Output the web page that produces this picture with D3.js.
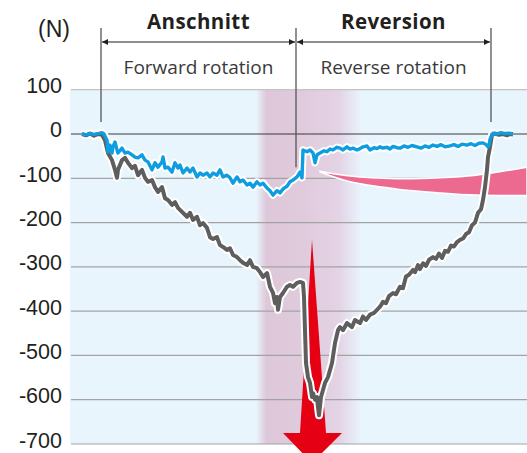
<!DOCTYPE html>
<html>
<head>
<meta charset="utf-8">
<script src="https://cdn.jsdelivr.net/npm/d3@7"></script>
<style>
  html, body { margin: 0; padding: 0; background: #fff; }
  svg { display: block; }
</style>
</head>
<body>
<div id="chart"></div>
<script>
// ---- Data (force in N, time in arbitrary sample ticks) ----
const yTicks = [100, 0, -100, -200, -300, -400, -500, -600, -700];

const phaseNames = ["Anschnitt", "Reversion"];
const phaseRotation = ["Forward rotation", "Reverse rotation"];
const phaseBounds = [19, 214, 409];     // time of the three divider lines
const boundEnds = [27, -75, 27];        // force where each divider stops

const grayTime = [0, 4, 8, 12, 16, 20, 23, 26, 30, 33, 35, 36, 40, 43, 46, 50, 53, 56, 60, 63, 66, 70, 73, 76, 80, 83, 86, 90, 93, 96,
  100, 105, 108, 111, 115, 118, 121, 125, 128, 131, 135, 138, 141, 145, 148, 151, 155, 158, 161, 165, 168, 171, 175, 178, 181, 185, 188, 191, 193, 195,
  196, 198, 201, 205, 208, 211, 215, 218, 221, 222, 223, 224, 226, 228, 230, 231, 233, 235, 236, 237, 239, 241, 243, 246, 250, 253, 256, 258, 261, 265,
  270, 273, 278, 281, 284, 288, 292, 295, 298, 301, 304, 307, 311, 314, 318, 321, 324, 327, 331, 333, 336, 338, 341, 344, 347, 351, 354, 357, 360, 363,
  366, 369, 372, 375, 378, 381, 384, 387, 390, 393, 396, 399, 401, 403, 405, 406, 408, 410, 413, 417, 421, 425, 428, 431];
const grayForce = [0, -3, 1, -4, 0, -2, -14, -43, -59, -81, -99, -81, -59, -54, -65, -77, -72, -93, -81, -99, -108, -104, -120, -131, -120, -145, -149, -160, -154, -167,
  -176, -187, -178, -194, -187, -206, -201, -212, -233, -237, -233, -251, -255, -262, -258, -273, -278, -285, -291, -296, -285, -300, -303, -312, -323, -314, -345, -359, -382, -368,
  -397, -368, -359, -345, -341, -345, -336, -334, -336, -368, -443, -517, -549, -562, -594, -585, -600, -594, -617, -635, -594, -578, -562, -549, -517, -472, -443, -436, -443, -427,
  -436, -420, -427, -412, -420, -408, -404, -397, -390, -379, -382, -366, -359, -362, -345, -348, -322, -318, -307, -312, -296, -305, -292, -298, -284, -278, -282, -270, -280, -264,
  -266, -252, -254, -244, -239, -236, -226, -222, -206, -200, -178, -170, -149, -120, -81, -52, -29, -2, 1, -2, 0, -3, 0, -1];

const blueTime = [0, 4, 8, 12, 16, 20, 22, 25, 26, 28, 30, 31, 33, 35, 36, 40, 43, 46, 50, 53, 56, 60, 63, 66, 70, 73, 76, 80, 81, 83,
  86, 90, 93, 96, 98, 101, 105, 108, 111, 115, 118, 121, 125, 128, 131, 135, 138, 141, 145, 148, 151, 155, 158, 161, 165, 168, 171, 175, 178, 181,
  185, 188, 191, 195, 198, 201, 205, 208, 211, 215, 218, 220, 221, 225, 228, 231, 233, 235, 238, 242, 245, 248, 251, 255, 258, 261, 265, 268, 271, 275,
  278, 281, 285, 288, 292, 295, 298, 301, 305, 308, 311, 315, 318, 322, 326, 330, 335, 339, 343, 347, 351, 355, 359, 363, 368, 372, 376, 380, 385, 389,
  393, 397, 401, 404, 406, 407, 408, 410, 411, 415, 419, 423, 427, 431];
const blueForce = [0, -2, 1, -1, 1, 3, 0, -14, -41, -25, -43, -29, -18, -36, -43, -32, -43, -41, -47, -52, -54, -47, -59, -63, -81, -65, -75, -63, -52, -77,
  -75, -86, -65, -77, -70, -88, -77, -86, -77, -97, -88, -93, -88, -97, -88, -93, -81, -97, -93, -99, -111, -97, -108, -104, -115, -111, -120, -108, -115, -111,
  -122, -128, -138, -128, -133, -124, -118, -108, -104, -97, -86, -99, -36, -40, -36, -43, -65, -47, -43, -38, -40, -34, -36, -30, -32, -36, -29, -34, -32, -36,
  -33, -29, -27, -36, -31, -33, -29, -32, -30, -34, -28, -31, -32, -27, -30, -26, -29, -32, -27, -30, -25, -28, -24, -29, -27, -24, -28, -23, -25, -22,
  -26, -21, -20, -24, -29, -25, -12, -2, 2, 0, 3, 1, 2, 0];

const peakBand = [174, 280];            // highlighted peak zone (time)
const wedgeTime = [238, 268, 314, 358, 394, 445];
const wedgeTop = [-84, -95, -101, -99, -93, -75];
const wedgeBottom = [-86, -108, -124, -133, -138, -139];
const arrowTime = [230, 244, 260, 230, 201, 218];
const arrowForce = [-239, -675, -675, -743, -675, -675];

function drawForceChart() {
  const width = 527, height = 453;
  const plotLeft = 70, plotRight = 527;
  const labelY = 29, subLabelY = 74, arrowY = 42, dividerTop = 28;

  const svg = d3.select("#chart").append("svg")
    .attr("width", width)
    .attr("height", height);

  const x = d3.scaleLinear().domain([-12, 445]).range([plotLeft, plotRight]);
  const y = d3.scaleLinear().domain([100, -700]).range([89.7, 444]);

  // Plot background
  svg.append("rect")
    .attr("x", plotLeft).attr("y", y(100))
    .attr("width", plotRight - plotLeft).attr("height", y(-700) - y(100))
    .attr("fill", "#e9f5fd");

  // Peak band gradient
  const defs = svg.append("defs");
  const grad = defs.append("linearGradient").attr("id", "band").attr("x1", "0").attr("x2", "1").attr("y1", "0").attr("y2", "0");
  [[0, "#e9f5fd"], [0.1, "#ddc7d9"], [0.45, "#e0cbdd"], [0.78, "#e3d3e4"], [1, "#e9f5fd"]].forEach(s => {
    grad.append("stop").attr("offset", s[0]).attr("stop-color", s[1]);
  });
  svg.append("rect")
    .attr("x", x(peakBand[0])).attr("y", y(100))
    .attr("width", x(peakBand[1]) - x(peakBand[0])).attr("height", y(-700) - y(100))
    .attr("fill", "url(#band)");

  // Gridlines
  svg.append("g").selectAll("line")
    .data(yTicks)
    .join("line")
    .attr("x1", plotLeft + 1).attr("x2", plotRight)
    .attr("y1", d => y(d)).attr("y2", d => y(d))
    .attr("stroke", d => d === 0 ? "#3a3a3a" : (d === 100 ? "#c4c4c4" : "#a3a3a3"))
    .attr("stroke-width", 1.2);

  // Y tick labels
  svg.append("g").selectAll("text")
    .data(yTicks)
    .join("text")
    .attr("x", 62).attr("y", d => y(d) + 3.5)
    .attr("text-anchor", "end")
    .style("font-family", "'Liberation Sans', Arial, sans-serif")
    .style("font-size", "21.5px")
    .attr("fill", "#231f20")
    .text(d => d);

  svg.append("text")
    .attr("x", 54).attr("y", 37)
    .attr("text-anchor", "middle")
    .style("font-family", "'Liberation Sans', Arial, sans-serif")
    .style("font-size", "23px")
    .attr("fill", "#231f20")
    .text("(N)");

  // Pink wedge (decreasing trend marker)
  const edge = d3.line().x(d => x(d[0])).y(d => y(d[1])).curve(d3.curveCatmullRom);
  const wedgePath = edge(wedgeTime.map((t, i) => [t, wedgeTop[i]])) +
    edge(wedgeTime.map((t, i) => [t, wedgeBottom[i]]).reverse()).replace(/^M/, "L") + "Z";
  svg.append("path")
    .attr("d", wedgePath)
    .attr("fill", "#ec6a90")
    .attr("stroke", "#fff")
    .attr("stroke-width", 1.5);

  // Red arrow
  svg.append("path")
    .attr("d", d3.line()(arrowTime.map((t, i) => [x(t), y(arrowForce[i])])) + "Z")
    .attr("fill", "#e50014");

  // Force lines with white halo
  const line = d3.line().x(d => x(d[0])).y(d => y(d[1]));
  const series = [
    { time: grayTime, force: grayForce, color: "#5e5e5e", w: 4 },
    { time: blueTime, force: blueForce, color: "#0d9de0", w: 3.4 }
  ];
  series.forEach(s => {
    const pts = s.time.map((t, i) => [t, s.force[i]]);
    svg.append("path").attr("d", line(pts))
      .attr("fill", "none").attr("stroke", "#fff")
      .attr("stroke-width", s.w + 4).attr("stroke-linejoin", "round");
  });
  series.forEach(s => {
    const pts = s.time.map((t, i) => [t, s.force[i]]);
    svg.append("path").attr("d", line(pts))
      .attr("fill", "none").attr("stroke", s.color)
      .attr("stroke-width", s.w).attr("stroke-linejoin", "round");
  });

  // Phase dividers
  svg.append("g").selectAll("line")
    .data(phaseBounds)
    .join("line")
    .attr("x1", d => x(d)).attr("x2", d => x(d))
    .attr("y1", dividerTop).attr("y2", (d, i) => y(boundEnds[i]))
    .attr("stroke", "#555").attr("stroke-width", 1.3);

  // Double-headed arrows and phase labels
  phaseNames.forEach((name, i) => {
    const x0 = x(phaseBounds[i]), x1 = x(phaseBounds[i + 1]);
    const cx = (x0 + x1) / 2;
    svg.append("line")
      .attr("x1", x0 + 1).attr("x2", x1 - 1)
      .attr("y1", arrowY).attr("y2", arrowY)
      .attr("stroke", "#231f20").attr("stroke-width", 1.2);
    svg.append("path")
      .attr("d", `M${x0 + 1},${arrowY}l6,-3l0,6Z M${x1 - 1},${arrowY}l-6,-3l0,6Z`)
      .attr("fill", "#231f20");
    svg.append("text")
      .attr("x", cx).attr("y", labelY)
      .attr("text-anchor", "middle")
      .style("font-family", "'Open Sans', sans-serif")
      .style("font-weight", "bold")
      .style("font-size", "20.5px")
      .style("letter-spacing", "0.4px")
      .attr("fill", "#231f20")
      .text(name);
    svg.append("text")
      .attr("x", cx).attr("y", subLabelY)
      .attr("text-anchor", "middle")
      .style("font-family", "'Open Sans', sans-serif")
      .style("font-size", "19px")
      .attr("fill", "#3a3a3a")
      .text(phaseRotation[i]);
  });
}

drawForceChart();
</script>
</body>
</html>
